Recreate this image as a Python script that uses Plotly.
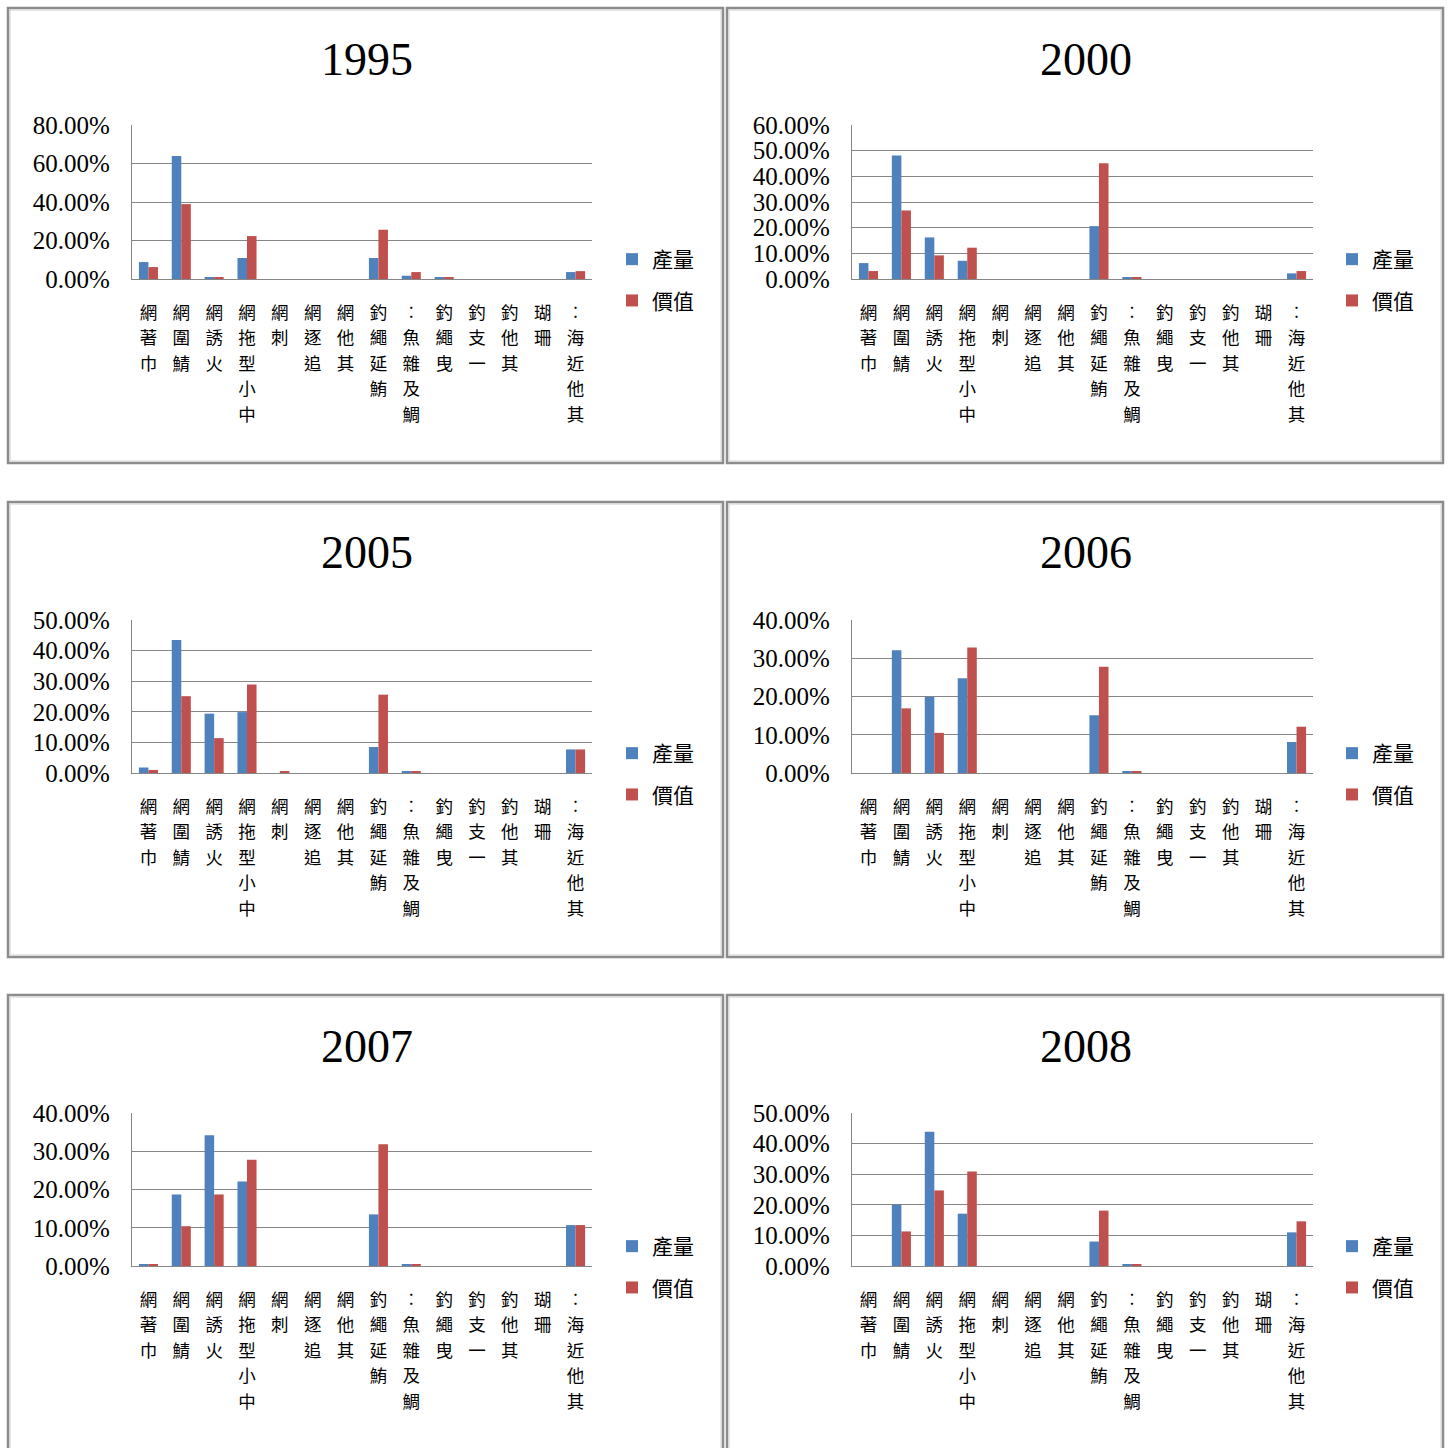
import plotly.graph_objects as go

# Fishing method categories (labels as shown on the axis)
categories = ["巾著網", "鯖圍網", "火誘網", "中小型拖網", "刺網", "追逐網", "其他網",
              "鮪延繩釣", "鯛及雜魚…", "曳繩釣", "一支釣", "其他釣", "珊瑚", "其他近海…"]
years = ["1995", "2000", "2005", "2006", "2007", "2008"]
series_names = ["產量", "價值"]

# Share of output (產量) and value (價值) per method, by year
output_1995 = [0.088, 0.639, 0.009, 0.109, 0, 0, 0, 0.109, 0.017, 0.009, 0, 0, 0, 0.036]
value_1995 = [0.062, 0.389, 0.009, 0.223, 0, 0, 0, 0.256, 0.036, 0.009, 0, 0, 0, 0.041]

output_2000 = [0.062, 0.481, 0.162, 0.071, 0, 0, 0, 0.206, 0.006, 0, 0, 0, 0, 0.022]
value_2000 = [0.031, 0.267, 0.092, 0.122, 0, 0, 0, 0.451, 0.006, 0, 0, 0, 0, 0.031]

output_2005 = [0.018, 0.435, 0.194, 0.199, 0, 0, 0, 0.085, 0.006, 0, 0, 0, 0, 0.077]
value_2005 = [0.010, 0.251, 0.114, 0.289, 0.006, 0, 0, 0.256, 0.006, 0, 0, 0, 0, 0.077]

output_2006 = [0, 0.321, 0.199, 0.248, 0, 0, 0, 0.151, 0.004, 0, 0, 0, 0, 0.081]
value_2006 = [0, 0.169, 0.105, 0.328, 0, 0, 0, 0.278, 0.004, 0, 0, 0, 0, 0.121]

output_2007 = [0.0035, 0.187, 0.342, 0.221, 0, 0, 0, 0.135, 0.0035, 0, 0, 0, 0, 0.107]
value_2007 = [0.0035, 0.104, 0.187, 0.278, 0, 0, 0, 0.318, 0.0035, 0, 0, 0, 0, 0.107]

output_2008 = [0, 0.201, 0.439, 0.171, 0, 0, 0, 0.080, 0.005, 0, 0, 0, 0, 0.110]
value_2008 = [0, 0.113, 0.247, 0.309, 0, 0, 0, 0.181, 0.005, 0, 0, 0, 0, 0.146]

y_max = [0.8, 0.6, 0.5, 0.4, 0.4, 0.5]
y_step = [0.2, 0.1, 0.1, 0.1, 0.1, 0.1]

panel_series = [
    (output_1995, value_1995),
    (output_2000, value_2000),
    (output_2005, value_2005),
    (output_2006, value_2006),
    (output_2007, value_2007),
    (output_2008, value_2008),
]

W, H = 1451, 1448
BLUE, RED = "#4F81BD", "#C0504D"
GRID = "#868686"
CJK = "Noto Sans CJK TC, Noto Sans CJK SC, sans-serif"
SERIF = "Liberation Serif, DejaVu Serif, serif"


def fx(px):
    return px / W


def fy(py):
    return 1 - py / H


def stacked(label):
    # upright characters stacked bottom-to-top, ellipsis turned vertical;
    # glyphs a little smaller than the line pitch so rows don't collide
    chars = ["︰" if c == "…" else c for c in label]
    return "<br>".join(f'<span style="font-size:17.5px">{ch}</span>'
                       for ch in reversed(chars))


tick_text = [stacked(c) for c in categories]

# pixel geometry of the 3x2 grid of chart panels
plot_cols = [(132, 592), (852, 1313)]
plot_rows = [(125, 279), (620, 773), (1113, 1266)]
panel_cols = [(8, 723), (727, 1443)]
panel_rows = [(8, 463), (502, 957), (995, 1470)]
title_y = [59, 553, 1046]
legend_x = [612, 1332]
legend_y = [239, 733, 1226]

fig = go.Figure()
shapes, annotations = [], []

for i, year in enumerate(years):
    r, c = divmod(i, 2)
    suffix = "" if i == 0 else str(i + 1)
    xa, ya = "x" + suffix, "y" + suffix
    leg = "legend" + suffix
    prod, val = panel_series[i]

    for name, vals, color in zip(series_names, (prod, val), (BLUE, RED)):
        fig.add_trace(go.Bar(
            x=categories, y=vals, name=name, marker_color=color,
            marker_line_width=0, xaxis=xa, yaxis=ya, legend=leg,
            legendgroup=f"{year}-{name}",
        ))

    x0, x1 = plot_cols[c]
    y0, y1 = plot_rows[r]
    fig.update_layout({
        f"xaxis{suffix}": dict(
            domain=[fx(x0), fx(x1)], anchor=ya, type="category",
            categoryorder="array", categoryarray=categories,
            tickvals=categories, ticktext=tick_text,
            tickfont=dict(family=CJK, size=19.6, color="#000"),
            tickangle=0, showline=True, linecolor=GRID, linewidth=1.4,
            ticks="", showgrid=False, ticklabelstandoff=15, fixedrange=True,
            automargin=False,
        ),
        f"yaxis{suffix}": dict(
            domain=[fy(y1), fy(y0)], anchor=xa, range=[0, y_max[i]],
            dtick=y_step[i], tick0=0, tickformat=".2%",
            tickfont=dict(family=SERIF, size=25, color="#000"),
            showgrid=True, gridcolor=GRID, gridwidth=1.3,
            showline=True, linecolor=GRID, linewidth=1.4,
            zeroline=False, ticks="", ticklabelstandoff=16, fixedrange=True,
            automargin=False,
        ),
        leg: dict(
            x=fx(legend_x[c]), y=fy(legend_y[r]), xanchor="left", yanchor="top",
            font=dict(family=CJK, size=21, color="#000"),
            bgcolor="rgba(0,0,0,0)", tracegroupgap=11,
            itemwidth=30,
        ),
    })

    px0, px1 = panel_cols[c]
    py0, py1 = panel_rows[r]
    shapes.append(dict(type="rect", xref="paper", yref="paper",
                       x0=fx(px0), x1=fx(px1), y0=fy(py1), y1=fy(py0),
                       line=dict(color="#8C8C8C", width=2.5), layer="below"))
    shapes.append(dict(type="rect", xref="paper", yref="paper",
                       x0=fx(px0 + 2), x1=fx(px1 - 2), y0=fy(py1 - 2), y1=fy(py0 + 2),
                       line=dict(color="#D0D0D0", width=1), layer="below"))

    annotations.append(dict(
        text=year, xref="paper", yref="paper",
        x=fx((px0 + px1) / 2 + 1), y=fy(title_y[r]),
        xanchor="center", yanchor="middle", showarrow=False,
        font=dict(family=SERIF, size=46, color="#000"),
    ))

fig.update_layout(
    width=W, height=H,
    margin=dict(l=0, r=0, t=0, b=0, autoexpand=False),
    paper_bgcolor="white", plot_bgcolor="white",
    barmode="group", bargap=0.42, bargroupgap=0,
    shapes=shapes, annotations=annotations,
    showlegend=True,
)

fig.write_html("out.html")
